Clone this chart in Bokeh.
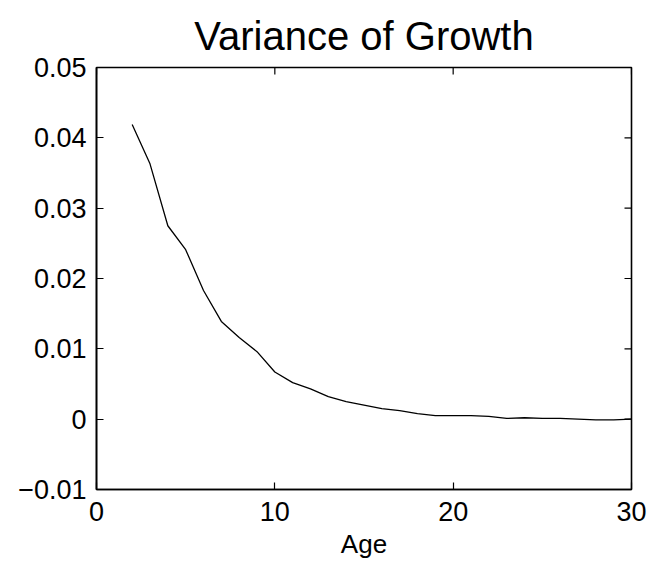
import math
from bokeh.plotting import figure
from bokeh.models import LinearAxis, FixedTicker, Range1d
from bokeh.embed import file_html
from bokeh.resources import INLINE

age = list(range(2, 31))
variance = [0.0419, 0.0363, 0.0275, 0.0241, 0.0183, 0.0139, 0.0116, 0.0096, 0.0067,
            0.0052, 0.0043, 0.0032, 0.0025, 0.0020, 0.0015, 0.0012, 0.0008, 0.0005,
            0.0005, 0.0005, 0.0004, 0.0001, 0.0002, 0.0001, 0.0001, 0.0000, -0.0001,
            -0.0001, 0.0000]

x_ticks = [0, 10, 20, 30]
y_ticks = [-0.01, 0.0, 0.01, 0.02, 0.03, 0.04, 0.05]
y_tick_labels = ["\u22120.01", "0", "0.01", "0.02", "0.03", "0.04", "0.05"]
title_text = "Variance of Growth"

X_MIN, X_MAX = 0, 30
Y_MIN, Y_MAX = -0.01, 0.05

FONT = "Liberation Sans"

p = figure(frame_width=535, frame_height=422,
           x_range=Range1d(X_MIN, X_MAX), y_range=Range1d(Y_MIN, Y_MAX),
           output_backend="svg", toolbar_location=None,
           x_axis_location=None, y_axis_location=None,
           min_border_left=96, min_border_right=20, min_border_top=67, min_border_bottom=70)

p.title.text = title_text
p.title.align = "center"
p.title.text_font = FONT
p.title.text_font_size = "40px"
p.title.text_font_style = "normal"
p.title.text_color = "black"
p.title.standoff = 20

p.grid.visible = False
p.outline_line_color = "black"
p.outline_line_width = 1.6
p.background_fill_color = "white"
p.border_fill_color = "white"

def style_axis(ax):
    ax.axis_line_color = "black"
    ax.axis_line_width = 1.6
    ax.major_tick_in = 7
    ax.major_tick_out = 0
    ax.major_tick_line_color = "black"
    ax.major_tick_line_width = 1.2
    ax.minor_tick_line_color = None
    ax.major_label_text_font = FONT
    ax.major_label_text_font_size = "27px"
    ax.major_label_text_color = "black"

xb = LinearAxis(ticker=FixedTicker(ticks=x_ticks))
style_axis(xb)
xb.major_label_standoff = 12
xb.axis_label = "Age"
xb.axis_label_text_font = FONT
xb.axis_label_text_font_size = "26px"
xb.axis_label_text_font_style = "normal"
xb.axis_label_text_color = "black"
xb.axis_label_standoff = 5
p.add_layout(xb, "below")

yl = LinearAxis(ticker=FixedTicker(ticks=y_ticks))
style_axis(yl)
yl.major_label_standoff = 10
yl.major_label_overrides = {t: l for t, l in zip(y_ticks, y_tick_labels)}
p.add_layout(yl, "left")

# inward ticks on the right and top edges (clipped to the frame)
p.scatter([X_MAX] * len(y_ticks), y_ticks, marker="dash", size=14,
          line_color="black", line_width=1.2)
p.scatter(x_ticks, [Y_MAX] * len(x_ticks), marker="dash", size=14, angle=math.pi / 2,
          line_color="black", line_width=1.2)

p.line(age, variance, line_color="black", line_width=1.3)

open("out.html", "w").write(file_html(p, INLINE))
